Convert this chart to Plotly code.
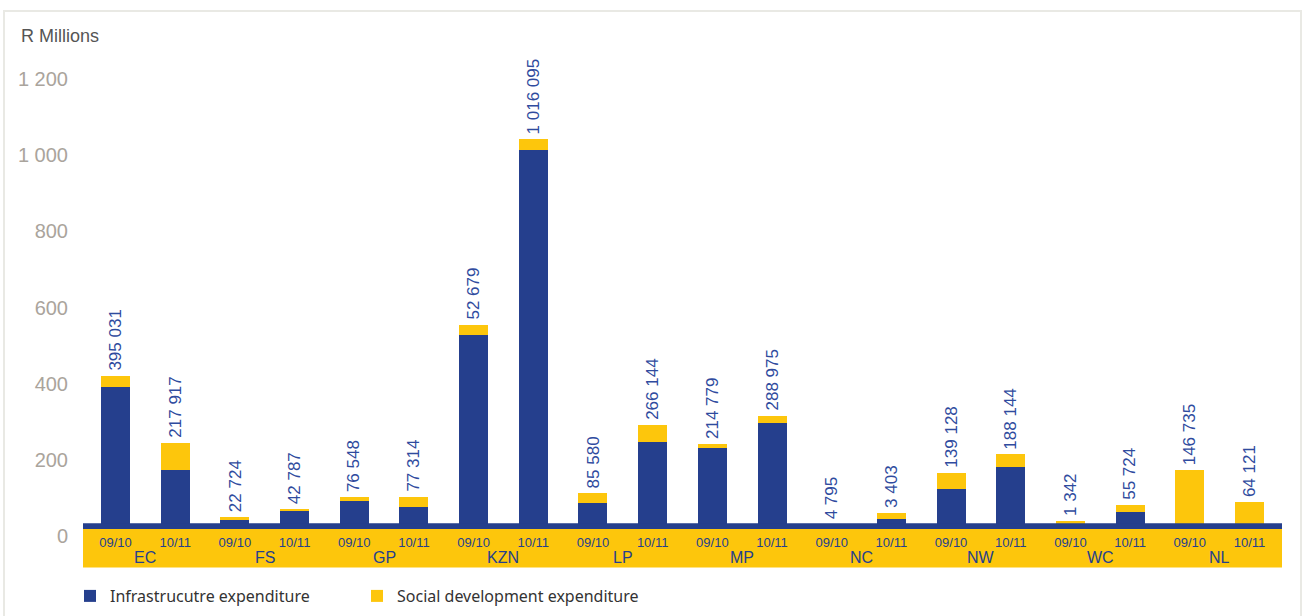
import plotly.graph_objects as go

# ---------------- data ----------------
provinces = ["EC", "FS", "GP", "KZN", "LP", "MP", "NC", "NW", "WC", "NL"]
years = ["09/10", "10/11"]
# R millions (bar order: province, then year)
infrastructure = [366, 148, 16, 40, 66, 50, 502, 987, 60, 221,
                  205, 270, 3.5, 18, 97, 155, 6, 37, 0, 0]
social = [29, 70, 7, 3, 10.5, 27, 26, 29, 25.6, 45,
          10, 19, 1.3, 16, 42, 33, 7, 19, 147, 64]
value_labels = ["395 031", "217 917", "22 724", "42 787", "76 548", "77 314",
                "52 679", "1 016 095", "85 580", "266 144", "214 779", "288 975",
                "4 795", "3 403", "139 128", "188 144", "1 342", "55 724",
                "146 735", "64 121"]
y_tick_vals = [0, 200, 400, 600, 800, 1000, 1200]
y_tick_text = ["0", "200", "400", "600", "800", "1 000", "1 200"]
series_names = ["Infrastrucutre expenditure", "Social development expenditure"]

# ---------------- styling ----------------
NAVY = "#253f8d"
YELLOW = "#fdc60c"
LABEL_BLUE = "#2f4b9e"
W, H = 1304, 616
ML, MR, MT, MB = 83, 22, 40, 90
plot_w = W - ML - MR
plot_h = H - MT - MB
px_per_unit = 0.3808

def px_x(p):
    return (p - ML) / plot_w

def px_y(p):
    return (H - MB - p) / plot_h

x_idx = list(range(len(infrastructure)))
year_text = [years[i % 2] for i in x_idx]
totals = [a + b for a, b in zip(infrastructure, social)]

fig = go.Figure()
fig.add_trace(go.Bar(x=x_idx, y=infrastructure, name=series_names[0],
                     marker=dict(color=NAVY, line=dict(width=0)), width=0.486))
fig.add_trace(go.Bar(x=x_idx, y=social, name=series_names[1],
                     marker=dict(color=YELLOW, line=dict(width=0)), width=0.486))

annotations = []
for i, (t, lab) in enumerate(zip(totals, value_labels)):
    annotations.append(dict(x=i, y=t, xref="x", yref="y", text=lab, textangle=-90,
                            showarrow=False, xanchor="center", yanchor="bottom",
                            yshift=3, font=dict(family="Liberation Sans", size=17,
                                                color=LABEL_BLUE)))
for j, p in enumerate(provinces):
    annotations.append(dict(x=2 * j + 0.5, y=0, xref="x", yref="paper", text=p,
                            showarrow=False, xanchor="center", yanchor="middle",
                            yshift=-31, font=dict(family="Liberation Sans", size=16,
                                                  color=NAVY)))
annotations.append(dict(x=px_x(19), y=px_y(36), xref="paper", yref="paper",
                        text="R Millions", showarrow=False, xanchor="left",
                        yanchor="middle", font=dict(family="Liberation Sans", size=18,
                                                    color="#555555")))

shapes = [
    # outer frame
    dict(type="rect", xref="paper", yref="paper", x0=px_x(4), x1=px_x(1301),
         y0=px_y(640), y1=px_y(11), line=dict(color="#e9e9e4", width=2),
         fillcolor="rgba(0,0,0,0)", layer="below"),
    # yellow category band
    dict(type="rect", xref="paper", yref="paper", x0=0, x1=1,
         y0=px_y(567.5), y1=px_y(526), line=dict(width=0), fillcolor=YELLOW,
         layer="below"),
    # dark axis band
    dict(type="rect", xref="paper", yref="paper", x0=0, x1=1,
         y0=px_y(529), y1=px_y(523.3), line=dict(width=0), fillcolor=NAVY,
         layer="above"),
]

fig.update_layout(
    width=W, height=H,
    margin=dict(l=ML, r=MR, t=MT, b=MB, autoexpand=False),
    barmode="stack",
    paper_bgcolor="white",
    plot_bgcolor="rgba(0,0,0,0)",
    showlegend=True,
    legend=dict(orientation="h", x=px_x(70), xanchor="left", y=px_y(596),
                yanchor="middle", font=dict(family="Noto Sans", size=16,
                                            color="#333333"),
                entrywidth=242, entrywidthmode="pixels", traceorder="normal",
                bgcolor="rgba(0,0,0,0)"),
    xaxis=dict(range=[-0.545, len(x_idx) - 1 + 0.545], tickmode="array",
               tickvals=x_idx, ticktext=year_text, showgrid=False, zeroline=False,
               showline=False, ticks="", ticklabelstandoff=7,
               tickfont=dict(family="Liberation Sans", size=13, color=NAVY)),
    yaxis=dict(range=[0, plot_h / px_per_unit], tickmode="array",
               tickvals=y_tick_vals, ticktext=y_tick_text, showgrid=False,
               zeroline=False, showline=False, ticks="", ticklabelstandoff=14,
               ticklabelshift=10,
               tickfont=dict(family="Liberation Sans", size=20, color="#aaa49c")),
    annotations=annotations,
    shapes=shapes,
)

fig.write_html("out.html")
